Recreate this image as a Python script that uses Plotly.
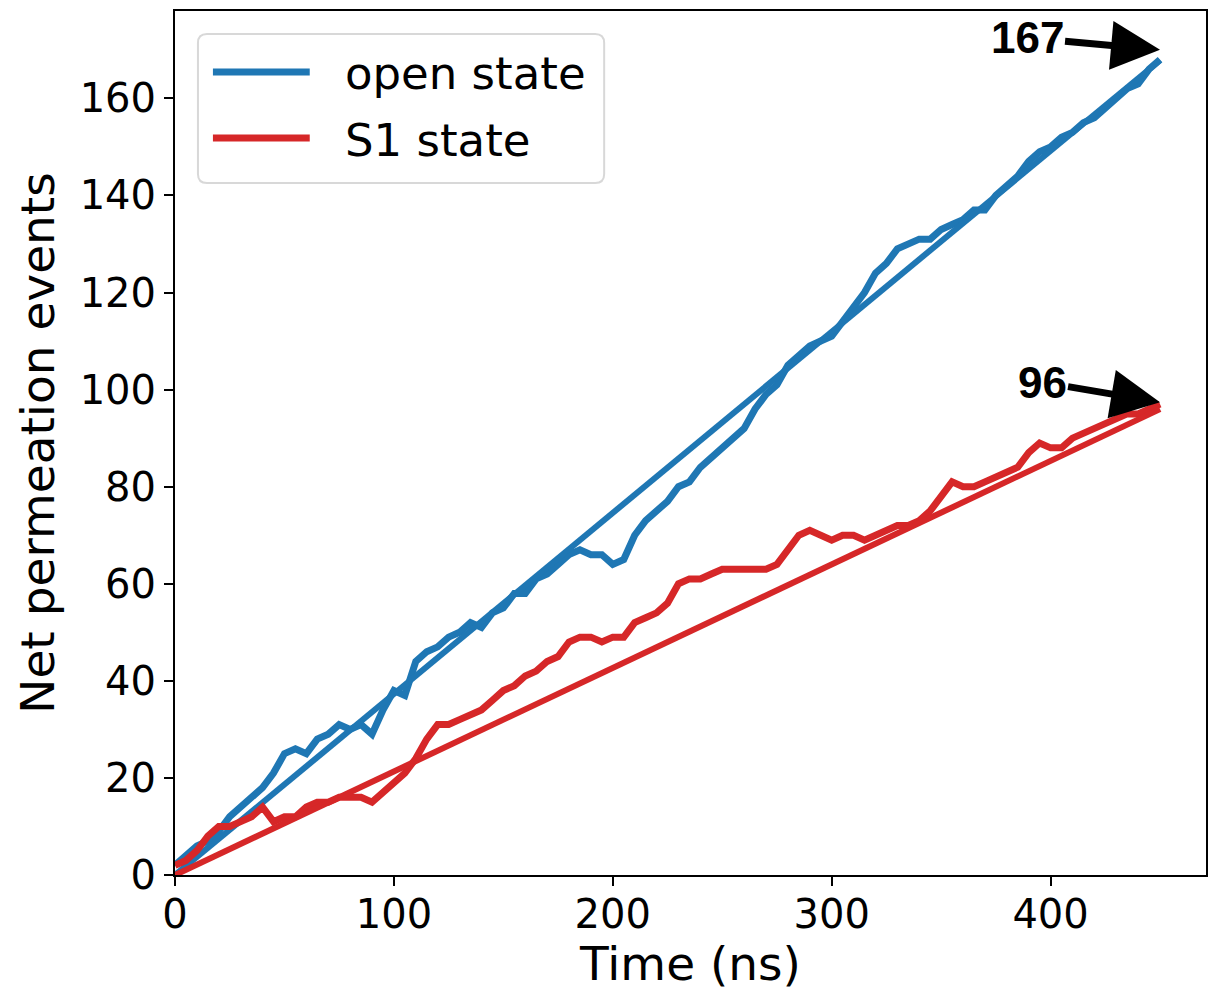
import plotly.graph_objects as go

# ---- data ----
time_ns = [0, 5, 10, 15, 20, 25, 30, 35, 40, 45, 50, 55, 60, 65, 70, 75, 80, 85, 90, 95,
           100, 105, 110, 115, 120, 125, 130, 135, 140, 145, 150, 155, 160, 165, 170, 175,
           180, 185, 190, 195, 200, 205, 210, 215, 220, 225, 230, 235, 240, 245, 250, 255,
           260, 265, 270, 275, 280, 285, 290, 295, 300, 305, 310, 315, 320, 325, 330, 335,
           340, 345, 350, 355, 360, 365, 370, 375, 380, 385, 390, 395, 400, 405, 410, 415,
           420, 425, 430, 435, 440, 445, 450]

open_state = [2, 4, 6, 7, 9, 12, 14, 16, 18, 21, 25, 26, 25, 28, 29, 31, 30, 31, 29, 34,
              38, 37, 44, 46, 47, 49, 50, 52, 51, 54, 55, 58, 58, 61, 62, 64,
              66, 67, 66, 66, 64, 65, 70, 73, 75, 77, 80, 81, 84, 86, 88, 90,
              92, 96, 99, 101, 105, 107, 109, 110, 111, 114, 117, 120, 124, 126, 129, 130,
              131, 131, 133, 134, 135, 137, 137, 140, 142, 144, 147, 149, 150, 152, 153, 155,
              156, 158, 160, 162, 163, 166, 168]

s1_state = [2, 3, 5, 8, 10, 10, 11, 12, 14, 11, 12, 12, 14, 15, 15, 16, 16, 16, 15, 17,
            19, 21, 24, 28, 31, 31, 32, 33, 34, 36, 38, 39, 41, 42, 44, 45,
            48, 49, 49, 48, 49, 49, 52, 53, 54, 56, 60, 61, 61, 62, 63, 63,
            63, 63, 63, 64, 67, 70, 71, 70, 69, 70, 70, 69, 70, 71, 72, 72,
            73, 75, 78, 81, 80, 80, 81, 82, 83, 84, 87, 89, 88, 88, 90, 91,
            92, 93, 94, 95, 95, 96, 97]

fit_slope_open = 0.373   # events per ns
fit_slope_s1 = 0.2133
fit_time = [0, 450]

final_open = 167
final_s1 = 96

series_names = ["open state", "S1 state"]

BLUE = "#1f77b4"
RED = "#d62728"
FONT = "DejaVu Sans"

fig = go.Figure()

fig.add_trace(go.Scatter(x=time_ns, y=open_state, mode="lines", name=series_names[0],
                         line=dict(color=BLUE, width=7), showlegend=False))
fig.add_trace(go.Scatter(x=fit_time, y=[fit_slope_open * t for t in fit_time], mode="lines",
                         showlegend=False, line=dict(color=BLUE, width=6)))
fig.add_trace(go.Scatter(x=time_ns, y=s1_state, mode="lines", name=series_names[1],
                         line=dict(color=RED, width=7), showlegend=False))
fig.add_trace(go.Scatter(x=fit_time, y=[fit_slope_s1 * t for t in fit_time], mode="lines",
                         showlegend=False, line=dict(color=RED, width=6)))

ann_font = dict(family="Liberation Sans", size=44, color="black")
fig.add_annotation(x=time_ns[-1], y=170, xref="x", yref="y",
                   text=f"<b>{final_open}</b>", showarrow=True, ax=-133, ay=-12,
                   arrowhead=2, arrowsize=1.4, arrowwidth=7, arrowcolor="black",
                   font=ann_font)
fig.add_annotation(x=time_ns[-1], y=97.4, xref="x", yref="y",
                   text=f"<b>{final_s1}</b>", showarrow=True, ax=-118, ay=-20,
                   arrowhead=2, arrowsize=1.4, arrowwidth=7, arrowcolor="black",
                   font=ann_font)

# ---- legend box (drawn in paper coordinates) ----
L, R, T, B = 175, 1208, 11, 875
PW, PH = R - L, B - T

def px(x):
    return (x - L) / PW

def py(y):
    return 1 - (y - T) / PH

bx0, bx1, by0, by1, rad = 198, 605, 34, 183, 9
path = (f"M {px(bx0 + rad)},{py(by0)} L {px(bx1 - rad)},{py(by0)} "
        f"Q {px(bx1)},{py(by0)} {px(bx1)},{py(by0 + rad)} "
        f"L {px(bx1)},{py(by1 - rad)} Q {px(bx1)},{py(by1)} {px(bx1 - rad)},{py(by1)} "
        f"L {px(bx0 + rad)},{py(by1)} Q {px(bx0)},{py(by1)} {px(bx0)},{py(by1 - rad)} "
        f"L {px(bx0)},{py(by0 + rad)} Q {px(bx0)},{py(by0)} {px(bx0 + rad)},{py(by0)} Z")
fig.add_shape(type="path", path=path, xref="paper", yref="paper",
              line=dict(color="#d8d8d8", width=2), fillcolor="rgba(255,255,255,0.8)",
              layer="above")
for name, color, yy in [(series_names[0], BLUE, 72), (series_names[1], RED, 138)]:
    fig.add_shape(type="line", xref="paper", yref="paper",
                  x0=px(213), x1=px(310), y0=py(yy), y1=py(yy),
                  line=dict(color=color, width=7), layer="above")
    fig.add_annotation(x=px(343), y=py(yy + 2), xref="paper", yref="paper",
                       text=name, showarrow=False, xanchor="left", yanchor="middle",
                       font=dict(family=FONT, size=45, color="black"))

axis_common = dict(showline=True, linecolor="black", linewidth=2, mirror=True,
                   ticks="outside", ticklen=9, tickwidth=2, tickcolor="black",
                   showgrid=False, zeroline=False,
                   tickfont=dict(family=FONT, size=40, color="black"))

fig.update_xaxes(range=[0, 471], tickvals=[0, 100, 200, 300, 400],
                 ticklabelstandoff=-6,
                 title=dict(text="Time (ns)", font=dict(family=FONT, size=47, color="black"),
                            standoff=0),
                 **axis_common)
fig.update_yaxes(range=[0, 178], tickvals=[0, 20, 40, 60, 80, 100, 120, 140, 160],
                 title=dict(text="Net permeation events", font=dict(family=FONT, size=47, color="black"),
                            standoff=10),
                 **axis_common)

fig.update_layout(
    width=1210, height=991,
    margin=dict(l=175, r=2, t=11, b=116),
    plot_bgcolor="white", paper_bgcolor="white",
    showlegend=False,
)

fig.write_html("out.html")
